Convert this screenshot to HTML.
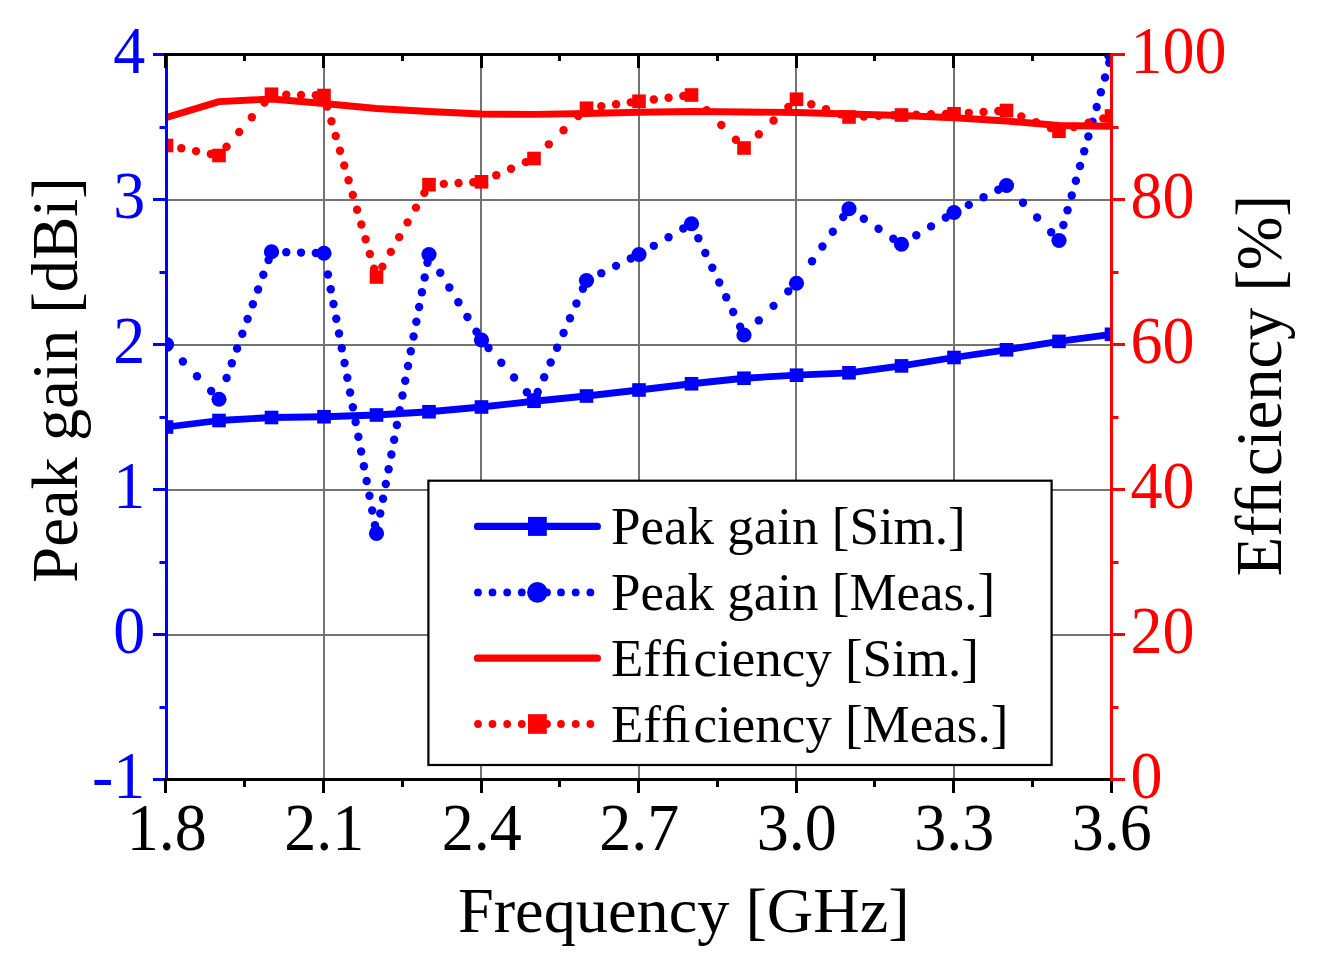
<!DOCTYPE html><html><head><meta charset="utf-8"><style>html,body{margin:0;padding:0;background:#fff;}svg{display:block;}</style></head><body><svg width="1320" height="968" viewBox="0 0 1320 968">
<rect width="1320" height="968" fill="#fff"/>
<defs><clipPath id="c"><rect x="166.5" y="54.5" width="945.0" height="725.0"/></clipPath></defs>
<g stroke="#737373" stroke-width="2"><line x1="324" y1="54.5" x2="324" y2="779.5"/><line x1="481" y1="54.5" x2="481" y2="779.5"/><line x1="639" y1="54.5" x2="639" y2="779.5"/><line x1="796" y1="54.5" x2="796" y2="779.5"/><line x1="954" y1="54.5" x2="954" y2="779.5"/><line x1="166.5" y1="200" x2="1111.5" y2="200"/><line x1="166.5" y1="345" x2="1111.5" y2="345"/><line x1="166.5" y1="490" x2="1111.5" y2="490"/><line x1="166.5" y1="635" x2="1111.5" y2="635"/></g>
<g clip-path="url(#c)">
<polyline points="166.50,427.00 219.00,420.50 271.50,417.50 324.00,416.75 376.50,415.00 429.00,411.75 481.50,407.00 534.00,401.25 586.50,396.00 639.00,390.00 691.50,383.75 744.00,378.25 796.50,375.20 849.00,372.80 901.50,365.90 954.00,357.50 1006.50,349.80 1059.00,341.40 1111.50,334.30" fill="none" stroke="#0000ff" stroke-width="6.8" stroke-linejoin="round"/>
<g fill="#0000ff"><rect x="159.70" y="420.20" width="13.6" height="13.6"/><rect x="212.20" y="413.70" width="13.6" height="13.6"/><rect x="264.70" y="410.70" width="13.6" height="13.6"/><rect x="317.20" y="409.95" width="13.6" height="13.6"/><rect x="369.70" y="408.20" width="13.6" height="13.6"/><rect x="422.20" y="404.95" width="13.6" height="13.6"/><rect x="474.70" y="400.20" width="13.6" height="13.6"/><rect x="527.20" y="394.45" width="13.6" height="13.6"/><rect x="579.70" y="389.20" width="13.6" height="13.6"/><rect x="632.20" y="383.20" width="13.6" height="13.6"/><rect x="684.70" y="376.95" width="13.6" height="13.6"/><rect x="737.20" y="371.45" width="13.6" height="13.6"/><rect x="789.70" y="368.40" width="13.6" height="13.6"/><rect x="842.20" y="366.00" width="13.6" height="13.6"/><rect x="894.70" y="359.10" width="13.6" height="13.6"/><rect x="947.20" y="350.70" width="13.6" height="13.6"/><rect x="999.70" y="343.00" width="13.6" height="13.6"/><rect x="1052.20" y="334.60" width="13.6" height="13.6"/><rect x="1104.70" y="327.50" width="13.6" height="13.6"/></g>
<g fill="#0000ff"><circle cx="211.14" cy="391.05" r="4.2"/><circle cx="196.99" cy="376.30" r="4.2"/><circle cx="182.85" cy="361.55" r="4.2"/><circle cx="268.58" cy="259.95" r="4.2"/><circle cx="263.33" cy="274.70" r="4.2"/><circle cx="258.08" cy="289.45" r="4.2"/><circle cx="252.83" cy="304.20" r="4.2"/><circle cx="247.58" cy="318.95" r="4.2"/><circle cx="242.33" cy="333.70" r="4.2"/><circle cx="237.08" cy="348.45" r="4.2"/><circle cx="231.83" cy="363.20" r="4.2"/><circle cx="226.58" cy="377.95" r="4.2"/><circle cx="315.80" cy="253.02" r="4.2"/><circle cx="301.05" cy="252.59" r="4.2"/><circle cx="286.30" cy="252.17" r="4.2"/><circle cx="374.96" cy="525.20" r="4.2"/><circle cx="372.20" cy="510.45" r="4.2"/><circle cx="369.44" cy="495.70" r="4.2"/><circle cx="366.67" cy="480.95" r="4.2"/><circle cx="363.91" cy="466.20" r="4.2"/><circle cx="361.14" cy="451.45" r="4.2"/><circle cx="358.38" cy="436.70" r="4.2"/><circle cx="355.61" cy="421.95" r="4.2"/><circle cx="352.85" cy="407.20" r="4.2"/><circle cx="350.09" cy="392.45" r="4.2"/><circle cx="347.32" cy="377.70" r="4.2"/><circle cx="344.56" cy="362.95" r="4.2"/><circle cx="341.79" cy="348.20" r="4.2"/><circle cx="339.03" cy="333.45" r="4.2"/><circle cx="336.27" cy="318.70" r="4.2"/><circle cx="333.50" cy="303.95" r="4.2"/><circle cx="330.74" cy="289.20" r="4.2"/><circle cx="327.97" cy="274.45" r="4.2"/><circle cx="427.46" cy="262.70" r="4.2"/><circle cx="424.68" cy="277.45" r="4.2"/><circle cx="421.90" cy="292.20" r="4.2"/><circle cx="419.13" cy="306.95" r="4.2"/><circle cx="416.35" cy="321.70" r="4.2"/><circle cx="413.57" cy="336.45" r="4.2"/><circle cx="410.80" cy="351.20" r="4.2"/><circle cx="408.02" cy="365.95" r="4.2"/><circle cx="405.24" cy="380.70" r="4.2"/><circle cx="402.47" cy="395.45" r="4.2"/><circle cx="399.69" cy="410.20" r="4.2"/><circle cx="396.91" cy="424.95" r="4.2"/><circle cx="394.14" cy="439.70" r="4.2"/><circle cx="391.36" cy="454.45" r="4.2"/><circle cx="388.58" cy="469.20" r="4.2"/><circle cx="385.81" cy="483.95" r="4.2"/><circle cx="383.03" cy="498.70" r="4.2"/><circle cx="380.26" cy="513.45" r="4.2"/><circle cx="476.46" cy="331.80" r="4.2"/><circle cx="467.41" cy="317.05" r="4.2"/><circle cx="458.35" cy="302.30" r="4.2"/><circle cx="449.29" cy="287.55" r="4.2"/><circle cx="440.24" cy="272.80" r="4.2"/><circle cx="526.88" cy="392.30" r="4.2"/><circle cx="514.08" cy="377.55" r="4.2"/><circle cx="501.29" cy="362.80" r="4.2"/><circle cx="488.49" cy="348.05" r="4.2"/><circle cx="582.91" cy="288.70" r="4.2"/><circle cx="576.46" cy="303.45" r="4.2"/><circle cx="570.01" cy="318.20" r="4.2"/><circle cx="563.55" cy="332.95" r="4.2"/><circle cx="557.10" cy="347.70" r="4.2"/><circle cx="550.65" cy="362.45" r="4.2"/><circle cx="544.19" cy="377.20" r="4.2"/><circle cx="537.74" cy="391.95" r="4.2"/><circle cx="630.80" cy="258.56" r="4.2"/><circle cx="616.05" cy="265.87" r="4.2"/><circle cx="601.30" cy="273.17" r="4.2"/><circle cx="683.30" cy="228.55" r="4.2"/><circle cx="668.55" cy="237.19" r="4.2"/><circle cx="653.80" cy="245.83" r="4.2"/><circle cx="740.13" cy="326.80" r="4.2"/><circle cx="733.17" cy="312.05" r="4.2"/><circle cx="726.21" cy="297.30" r="4.2"/><circle cx="719.25" cy="282.55" r="4.2"/><circle cx="712.29" cy="267.80" r="4.2"/><circle cx="705.33" cy="253.05" r="4.2"/><circle cx="698.37" cy="238.30" r="4.2"/><circle cx="788.30" cy="291.33" r="4.2"/><circle cx="773.55" cy="305.87" r="4.2"/><circle cx="758.80" cy="320.41" r="4.2"/><circle cx="843.22" cy="216.95" r="4.2"/><circle cx="832.83" cy="231.70" r="4.2"/><circle cx="822.43" cy="246.45" r="4.2"/><circle cx="812.04" cy="261.20" r="4.2"/><circle cx="893.30" cy="238.71" r="4.2"/><circle cx="878.55" cy="228.73" r="4.2"/><circle cx="863.80" cy="218.76" r="4.2"/><circle cx="945.80" cy="217.46" r="4.2"/><circle cx="931.05" cy="226.38" r="4.2"/><circle cx="916.30" cy="235.30" r="4.2"/><circle cx="998.30" cy="189.72" r="4.2"/><circle cx="983.55" cy="197.30" r="4.2"/><circle cx="968.80" cy="204.89" r="4.2"/><circle cx="1051.17" cy="232.30" r="4.2"/><circle cx="1037.09" cy="217.55" r="4.2"/><circle cx="1023.01" cy="202.80" r="4.2"/><circle cx="1109.19" cy="62.70" r="4.2"/><circle cx="1105.02" cy="77.45" r="4.2"/><circle cx="1100.86" cy="92.20" r="4.2"/><circle cx="1096.70" cy="106.95" r="4.2"/><circle cx="1092.53" cy="121.70" r="4.2"/><circle cx="1088.37" cy="136.45" r="4.2"/><circle cx="1084.21" cy="151.20" r="4.2"/><circle cx="1080.04" cy="165.95" r="4.2"/><circle cx="1075.88" cy="180.70" r="4.2"/><circle cx="1071.72" cy="195.45" r="4.2"/><circle cx="1067.55" cy="210.20" r="4.2"/><circle cx="1063.39" cy="224.95" r="4.2"/></g>
<g fill="#0000ff"><circle cx="166.50" cy="344.50" r="7.6"/><circle cx="219.00" cy="399.25" r="7.6"/><circle cx="271.50" cy="251.75" r="7.6"/><circle cx="324.00" cy="253.25" r="7.6"/><circle cx="376.50" cy="533.40" r="7.6"/><circle cx="429.00" cy="254.50" r="7.6"/><circle cx="481.50" cy="340.00" r="7.6"/><circle cx="534.00" cy="400.50" r="7.6"/><circle cx="586.50" cy="280.50" r="7.6"/><circle cx="639.00" cy="254.50" r="7.6"/><circle cx="691.50" cy="223.75" r="7.6"/><circle cx="744.00" cy="335.00" r="7.6"/><circle cx="796.50" cy="283.25" r="7.6"/><circle cx="849.00" cy="208.75" r="7.6"/><circle cx="901.50" cy="244.25" r="7.6"/><circle cx="954.00" cy="212.50" r="7.6"/><circle cx="1006.50" cy="185.50" r="7.6"/><circle cx="1059.00" cy="240.50" r="7.6"/><circle cx="1111.50" cy="54.50" r="7.6"/></g>
<polyline points="166.50,117.50 219.00,101.60 271.50,99.00 324.00,103.50 376.50,108.50 429.00,111.50 481.50,114.00 534.00,114.40 586.50,113.50 639.00,112.25 691.50,111.50 744.00,112.00 796.50,112.50 849.00,114.00 901.50,115.50 954.00,117.75 1006.50,121.00 1059.00,125.50 1111.50,126.25" fill="none" stroke="#ff0000" stroke-width="6.9" stroke-linejoin="round"/>
<g fill="#ff0000"><circle cx="210.80" cy="153.94" r="4.2"/><circle cx="196.05" cy="151.13" r="4.2"/><circle cx="181.30" cy="148.32" r="4.2"/><circle cx="264.47" cy="102.45" r="4.2"/><circle cx="251.83" cy="117.20" r="4.2"/><circle cx="239.19" cy="131.95" r="4.2"/><circle cx="226.54" cy="146.70" r="4.2"/><circle cx="315.80" cy="95.30" r="4.2"/><circle cx="301.05" cy="94.95" r="4.2"/><circle cx="286.30" cy="94.60" r="4.2"/><circle cx="374.13" cy="268.80" r="4.2"/><circle cx="369.86" cy="254.05" r="4.2"/><circle cx="365.60" cy="239.30" r="4.2"/><circle cx="361.33" cy="224.55" r="4.2"/><circle cx="357.06" cy="209.80" r="4.2"/><circle cx="352.80" cy="195.05" r="4.2"/><circle cx="348.53" cy="180.30" r="4.2"/><circle cx="344.26" cy="165.55" r="4.2"/><circle cx="340.00" cy="150.80" r="4.2"/><circle cx="335.73" cy="136.05" r="4.2"/><circle cx="331.46" cy="121.30" r="4.2"/><circle cx="327.20" cy="106.55" r="4.2"/><circle cx="424.34" cy="192.90" r="4.2"/><circle cx="415.95" cy="207.65" r="4.2"/><circle cx="407.56" cy="222.40" r="4.2"/><circle cx="399.17" cy="237.15" r="4.2"/><circle cx="390.78" cy="251.90" r="4.2"/><circle cx="382.39" cy="266.65" r="4.2"/><circle cx="473.30" cy="182.25" r="4.2"/><circle cx="458.55" cy="183.07" r="4.2"/><circle cx="443.80" cy="183.88" r="4.2"/><circle cx="525.80" cy="162.14" r="4.2"/><circle cx="511.05" cy="168.69" r="4.2"/><circle cx="496.30" cy="175.23" r="4.2"/><circle cx="578.30" cy="116.10" r="4.2"/><circle cx="563.55" cy="130.22" r="4.2"/><circle cx="548.80" cy="144.33" r="4.2"/><circle cx="630.80" cy="102.34" r="4.2"/><circle cx="616.05" cy="104.31" r="4.2"/><circle cx="601.30" cy="106.28" r="4.2"/><circle cx="683.30" cy="95.98" r="4.2"/><circle cx="668.55" cy="97.73" r="4.2"/><circle cx="653.80" cy="99.49" r="4.2"/><circle cx="735.88" cy="139.80" r="4.2"/><circle cx="721.27" cy="125.05" r="4.2"/><circle cx="706.66" cy="110.30" r="4.2"/><circle cx="788.30" cy="106.86" r="4.2"/><circle cx="773.55" cy="120.56" r="4.2"/><circle cx="758.80" cy="134.26" r="4.2"/><circle cx="840.80" cy="114.23" r="4.2"/><circle cx="826.05" cy="109.24" r="4.2"/><circle cx="811.30" cy="104.25" r="4.2"/><circle cx="893.30" cy="115.31" r="4.2"/><circle cx="878.55" cy="115.87" r="4.2"/><circle cx="863.80" cy="116.44" r="4.2"/><circle cx="945.80" cy="113.95" r="4.2"/><circle cx="931.05" cy="114.30" r="4.2"/><circle cx="916.30" cy="114.65" r="4.2"/><circle cx="998.30" cy="111.01" r="4.2"/><circle cx="983.55" cy="111.92" r="4.2"/><circle cx="968.80" cy="112.83" r="4.2"/><circle cx="1050.80" cy="128.01" r="4.2"/><circle cx="1036.05" cy="122.18" r="4.2"/><circle cx="1021.30" cy="116.35" r="4.2"/><circle cx="1103.30" cy="118.38" r="4.2"/><circle cx="1088.55" cy="122.67" r="4.2"/><circle cx="1073.80" cy="126.95" r="4.2"/></g>
<g fill="#ff0000"><rect x="159.70" y="138.70" width="13.6" height="13.6"/><rect x="212.20" y="148.70" width="13.6" height="13.6"/><rect x="264.70" y="87.45" width="13.6" height="13.6"/><rect x="317.20" y="88.70" width="13.6" height="13.6"/><rect x="369.70" y="270.20" width="13.6" height="13.6"/><rect x="422.20" y="177.90" width="13.6" height="13.6"/><rect x="474.70" y="175.00" width="13.6" height="13.6"/><rect x="527.20" y="151.70" width="13.6" height="13.6"/><rect x="579.70" y="101.45" width="13.6" height="13.6"/><rect x="632.20" y="94.45" width="13.6" height="13.6"/><rect x="684.70" y="88.20" width="13.6" height="13.6"/><rect x="737.20" y="141.20" width="13.6" height="13.6"/><rect x="789.70" y="92.45" width="13.6" height="13.6"/><rect x="842.20" y="110.20" width="13.6" height="13.6"/><rect x="894.70" y="108.20" width="13.6" height="13.6"/><rect x="947.20" y="106.95" width="13.6" height="13.6"/><rect x="999.70" y="103.70" width="13.6" height="13.6"/><rect x="1052.20" y="124.45" width="13.6" height="13.6"/><rect x="1104.70" y="109.20" width="13.6" height="13.6"/></g>
</g>
<rect x="428.4" y="480.7" width="623.1999999999999" height="284.3" fill="#fff" stroke="#000" stroke-width="2.2"/>
<line x1="477.5" y1="526.4" x2="597.3" y2="526.4" stroke="#0000ff" stroke-width="7.3" stroke-linecap="round"/>
<rect x="528.0" y="516.9" width="18.8" height="19" fill="#0000ff"/>
<g fill="#0000ff"><circle cx="478" cy="592.4" r="3.9"/><circle cx="492.5" cy="592.4" r="3.9"/><circle cx="507.2" cy="592.4" r="3.9"/><circle cx="521.8" cy="592.4" r="3.9"/><circle cx="547" cy="592.4" r="3.9"/><circle cx="561" cy="592.4" r="3.9"/><circle cx="575.7" cy="592.4" r="3.9"/><circle cx="590.4" cy="592.4" r="3.9"/><circle cx="537.4" cy="592.4" r="10.3"/></g>
<line x1="477.5" y1="658.2" x2="597.3" y2="658.2" stroke="#ff0000" stroke-width="7.3" stroke-linecap="round"/>
<g fill="#ff0000"><circle cx="478" cy="724" r="3.9"/><circle cx="492.5" cy="724" r="3.9"/><circle cx="507.2" cy="724" r="3.9"/><circle cx="521.8" cy="724" r="3.9"/><circle cx="547" cy="724" r="3.9"/><circle cx="561" cy="724" r="3.9"/><circle cx="575.7" cy="724" r="3.9"/><circle cx="590.4" cy="724" r="3.9"/><rect x="528.0" y="714.2" width="18.8" height="19.6"/></g>
<g font-family="Liberation Serif" font-size="53" fill="#000"><text x="611" y="544.4">Peak gain [Sim.]</text><text x="611" y="610.4">Peak gain [Meas.]</text><text x="611" y="676.2">Efﬁ<tspan dx="2.9">ciency [Sim.]</tspan></text><text x="611" y="742">Efﬁ<tspan dx="2.9">ciency [Meas.]</tspan></text></g>
<line x1="166.5" y1="53.0" x2="166.5" y2="781.0" stroke="#0000ff" stroke-width="3"/><line x1="153" y1="54.5" x2="166.5" y2="54.5" stroke="#0000ff" stroke-width="3"/><line x1="153" y1="199.5" x2="166.5" y2="199.5" stroke="#0000ff" stroke-width="3"/><line x1="153" y1="344.5" x2="166.5" y2="344.5" stroke="#0000ff" stroke-width="3"/><line x1="153" y1="489.5" x2="166.5" y2="489.5" stroke="#0000ff" stroke-width="3"/><line x1="153" y1="634.5" x2="166.5" y2="634.5" stroke="#0000ff" stroke-width="3"/><line x1="153" y1="779.5" x2="166.5" y2="779.5" stroke="#0000ff" stroke-width="3"/><line x1="159.5" y1="127.5" x2="166.5" y2="127.5" stroke="#0000ff" stroke-width="3"/><line x1="159.5" y1="272.5" x2="166.5" y2="272.5" stroke="#0000ff" stroke-width="3"/><line x1="159.5" y1="417.5" x2="166.5" y2="417.5" stroke="#0000ff" stroke-width="3"/><line x1="159.5" y1="562.5" x2="166.5" y2="562.5" stroke="#0000ff" stroke-width="3"/><line x1="159.5" y1="707.5" x2="166.5" y2="707.5" stroke="#0000ff" stroke-width="3"/>
<line x1="164.0" y1="779.5" x2="1111.5" y2="779.5" stroke="#000" stroke-width="3"/><line x1="164.0" y1="54.5" x2="1111.5" y2="54.5" stroke="#000" stroke-width="3"/><line x1="165.5" y1="779.5" x2="165.5" y2="793" stroke="#000" stroke-width="3"/><line x1="165.5" y1="54.5" x2="165.5" y2="68" stroke="#000" stroke-width="3"/><line x1="323.5" y1="779.5" x2="323.5" y2="793" stroke="#000" stroke-width="3"/><line x1="323.5" y1="54.5" x2="323.5" y2="68" stroke="#000" stroke-width="3"/><line x1="481.5" y1="779.5" x2="481.5" y2="793" stroke="#000" stroke-width="3"/><line x1="481.5" y1="54.5" x2="481.5" y2="68" stroke="#000" stroke-width="3"/><line x1="638.5" y1="779.5" x2="638.5" y2="793" stroke="#000" stroke-width="3"/><line x1="638.5" y1="54.5" x2="638.5" y2="68" stroke="#000" stroke-width="3"/><line x1="796.5" y1="779.5" x2="796.5" y2="793" stroke="#000" stroke-width="3"/><line x1="796.5" y1="54.5" x2="796.5" y2="68" stroke="#000" stroke-width="3"/><line x1="953.5" y1="779.5" x2="953.5" y2="793" stroke="#000" stroke-width="3"/><line x1="953.5" y1="54.5" x2="953.5" y2="68" stroke="#000" stroke-width="3"/><line x1="1111.5" y1="779.5" x2="1111.5" y2="793" stroke="#000" stroke-width="3"/><line x1="1111.5" y1="54.5" x2="1111.5" y2="68" stroke="#000" stroke-width="3"/><line x1="244.5" y1="779.5" x2="244.5" y2="787" stroke="#000" stroke-width="3"/><line x1="244.5" y1="54.5" x2="244.5" y2="61" stroke="#000" stroke-width="3"/><line x1="402.5" y1="779.5" x2="402.5" y2="787" stroke="#000" stroke-width="3"/><line x1="402.5" y1="54.5" x2="402.5" y2="61" stroke="#000" stroke-width="3"/><line x1="559.5" y1="779.5" x2="559.5" y2="787" stroke="#000" stroke-width="3"/><line x1="559.5" y1="54.5" x2="559.5" y2="61" stroke="#000" stroke-width="3"/><line x1="717.5" y1="779.5" x2="717.5" y2="787" stroke="#000" stroke-width="3"/><line x1="717.5" y1="54.5" x2="717.5" y2="61" stroke="#000" stroke-width="3"/><line x1="874.5" y1="779.5" x2="874.5" y2="787" stroke="#000" stroke-width="3"/><line x1="874.5" y1="54.5" x2="874.5" y2="61" stroke="#000" stroke-width="3"/><line x1="1032.5" y1="779.5" x2="1032.5" y2="787" stroke="#000" stroke-width="3"/><line x1="1032.5" y1="54.5" x2="1032.5" y2="61" stroke="#000" stroke-width="3"/>
<line x1="1111.5" y1="53.0" x2="1111.5" y2="781.0" stroke="#ff0000" stroke-width="3"/><line x1="1111.5" y1="54.5" x2="1125" y2="54.5" stroke="#ff0000" stroke-width="3"/><line x1="1111.5" y1="199.5" x2="1125" y2="199.5" stroke="#ff0000" stroke-width="3"/><line x1="1111.5" y1="344.5" x2="1125" y2="344.5" stroke="#ff0000" stroke-width="3"/><line x1="1111.5" y1="489.5" x2="1125" y2="489.5" stroke="#ff0000" stroke-width="3"/><line x1="1111.5" y1="634.5" x2="1125" y2="634.5" stroke="#ff0000" stroke-width="3"/><line x1="1111.5" y1="779.5" x2="1125" y2="779.5" stroke="#ff0000" stroke-width="3"/><line x1="1111.5" y1="127.5" x2="1118.5" y2="127.5" stroke="#ff0000" stroke-width="3"/><line x1="1111.5" y1="272.5" x2="1118.5" y2="272.5" stroke="#ff0000" stroke-width="3"/><line x1="1111.5" y1="417.5" x2="1118.5" y2="417.5" stroke="#ff0000" stroke-width="3"/><line x1="1111.5" y1="562.5" x2="1118.5" y2="562.5" stroke="#ff0000" stroke-width="3"/><line x1="1111.5" y1="707.5" x2="1118.5" y2="707.5" stroke="#ff0000" stroke-width="3"/>
<g font-family="Liberation Serif" font-size="64" fill="#0000ff" text-anchor="end"><text transform="translate(145.3,72.5) scale(1,1.05)">4</text><text transform="translate(145.3,217.5) scale(1,1.05)">3</text><text transform="translate(145.3,362.5) scale(1,1.05)">2</text><text transform="translate(145.3,507.5) scale(1,1.05)">1</text><text transform="translate(145.3,652.5) scale(1,1.05)">0</text><text transform="translate(145.3,797.5) scale(1,1.05)">-1</text></g>
<g font-family="Liberation Serif" font-size="64" fill="#ff0000"><text transform="translate(1130.5,72.5) scale(1,1.05)">100</text><text transform="translate(1130.5,217.5) scale(1,1.05)">80</text><text transform="translate(1130.5,362.5) scale(1,1.05)">60</text><text transform="translate(1130.5,507.5) scale(1,1.05)">40</text><text transform="translate(1130.5,652.5) scale(1,1.05)">20</text><text transform="translate(1130.5,797.5) scale(1,1.05)">0</text></g>
<g font-family="Liberation Serif" font-size="64" fill="#000" text-anchor="middle"><text transform="translate(166.8,850.3) scale(1,1.05)">1.8</text><text transform="translate(324.3,850.3) scale(1,1.05)">2.1</text><text transform="translate(481.8,850.3) scale(1,1.05)">2.4</text><text transform="translate(639.3,850.3) scale(1,1.05)">2.7</text><text transform="translate(796.8,850.3) scale(1,1.05)">3.0</text><text transform="translate(954.3,850.3) scale(1,1.05)">3.3</text><text transform="translate(1111.8,850.3) scale(1,1.05)">3.6</text></g>
<text font-family="Liberation Serif" font-size="64.3" x="683.8" y="932" text-anchor="middle">Frequency [GHz]</text>
<text font-family="Liberation Serif" font-size="64.6" transform="translate(76.8,380.0) rotate(-90)" text-anchor="middle">Peak gain [dBi]</text>
<text font-family="Liberation Serif" font-size="64.5" transform="translate(1281,385.6) rotate(-90)" text-anchor="middle">Efﬁ<tspan dx="3.5">ciency [%]</tspan></text>
</svg></body></html>
